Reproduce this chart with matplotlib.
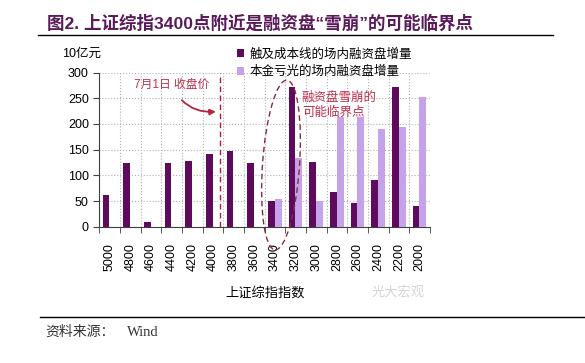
import matplotlib.pyplot as plt
from matplotlib.patches import Ellipse

plt.rcParams['font.family'] = ['Liberation Sans', 'Noto Sans CJK SC', 'DejaVu Sans']

# data (unit: 10亿元)
index_levels = ['5000', '4800', '4600', '4400', '4200', '4000', '3800', '3600',
                '3400', '3200', '3000', '2800', '2600', '2400', '2200', '2000']
cost_line = [61, 124, 10, 124, 128, 142, 147, 124, 50, 271, 126, 68, 47, 91, 271, 40]
principal_lost = [0, 0, 0, 0, 0, 0, 0, 0, 53, 133, 50, 213, 213, 191, 194, 252]
series_names = ['触及成本线的场内融资盘增量', '本金亏光的场内融资盘增量']

dark = '#5e0b5e'
light = '#c6a2ea'
red = '#c0304a'

fig = plt.figure(figsize=(5.85, 3.63), dpi=100)
ax = fig.add_axes([0.1697, 0.3755, 0.5653, 0.4245])

x = list(range(len(index_levels)))
w = 0.33
ax.bar([i - w / 2 - 0.01 for i in x], cost_line, width=w, color=dark, label=series_names[0], zorder=3)
ax.bar([i + w / 2 - 0.01 for i in x], principal_lost, width=w, color=light, label=series_names[1], zorder=3)

ax.set_xlim(-0.5, len(x) - 0.5)
ax.set_ylim(0, 300)
ax.set_yticks(range(0, 301, 50))
ax.set_xticks(x)
ax.set_xticklabels(index_levels, rotation=90, fontsize=9)
ax.set_xticks([i - 0.5 for i in range(len(x) + 1)], minor=True)
ax.tick_params(axis='x', which='major', length=0, pad=12)
ax.tick_params(axis='x', which='minor', length=4, direction='out', color='#404040')
ax.tick_params(axis='y', length=4, direction='out', color='#404040', labelsize=9)
ax.grid(axis='y', which='major', linestyle=':', color='#b0b0b0', linewidth=0.8, zorder=0)
ax.grid(axis='x', which='minor', linestyle=':', color='#b0b0b0', linewidth=0.8, zorder=0)
for s in ['top', 'right']:
    ax.spines[s].set_visible(False)
for s in ['left', 'bottom']:
    ax.spines[s].set_color('#404040')

ax.set_xlabel('上证综指指数', fontsize=9.5, labelpad=11)
fig.text(0.106, 0.851, '10亿元', fontsize=9, va='center')

# 7月1日 marker
ax.axvline(5.33, color='#a8203c', linestyle=(0, (4, 2.5)), linewidth=1, zorder=4)
ax.annotate('7月1日 收盘价', xy=(5.14, 224), xytext=(3.01, 276), fontsize=8.5,
            color=red, ha='center', va='center',
            arrowprops=dict(arrowstyle='-|>', color='#b02840', lw=1.3,
                            connectionstyle='arc3,rad=0.35', shrinkA=6, shrinkB=0))

ax.text(9.3, 262, '融资盘雪崩的\n可能临界点', fontsize=9, color=red, va='top',
        linespacing=1.25, zorder=5)

ell = Ellipse((2.81, 1.98), 0.37, 1.70, angle=-4, transform=fig.dpi_scale_trans,
              fill=False, edgecolor='#8a2a3c', linestyle=(0, (4, 2.5)), linewidth=1)
fig.add_artist(ell)

fig.legend(loc='upper left', bbox_to_anchor=(0.395, 0.885), frameon=False, fontsize=9,
           handlelength=0.55, handleheight=0.55, handletextpad=0.4, labelspacing=0.45,
           borderpad=0)

fig.text(0.635, 0.195, '光大宏观', fontsize=9.5, color='#d4d4d4', va='center')

# title and source
fig.text(0.080, 0.937, '图2. 上证综指3400点附近是融资盘“雪崩”的可能临界点',
         fontsize=12.6, fontweight='bold', color='#5a1a5a', va='center')
fig.add_artist(plt.Line2D([0.065, 0.945], [0.903, 0.903], transform=fig.transFigure,
                          color='black', linewidth=1))
fig.add_artist(plt.Line2D([0.068, 1.0], [0.127, 0.127], transform=fig.transFigure,
                          color='black', linewidth=1))
fig.text(0.077, 0.085, '资料来源：', fontsize=10, color='#333333', va='center',
         family=['Noto Sans CJK SC'])
fig.text(0.217, 0.085, 'Wind', fontsize=10.5, color='#333333', va='center',
         family=['Liberation Serif'])

fig.savefig('out.png', dpi=100)
